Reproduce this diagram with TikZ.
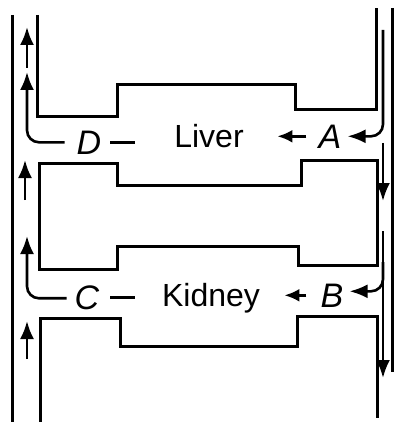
\documentclass[tikz,border=0pt]{standalone}
\usepackage{fontspec}
\setmainfont{Liberation Sans}
\usepackage{tikz}
\usetikzlibrary{arrows.meta}

\begin{document}
\begin{tikzpicture}[x=1pt, y=-1pt,
  wall/.style={line width=3pt, line join=miter},
  flow/.style={line width=2.6pt, rounded corners=12pt,
    -{Latex[length=18pt,width=14pt]}},
  pointer/.style={line width=2.6pt, -{Latex[length=15pt,width=13pt]}},
  organ/.style={font=\fontsize{32}{34}\selectfont, inner sep=0pt, anchor=base},
  site/.style={font=\fontsize{34}{36}\selectfont\itshape, inner sep=0pt,
    anchor=base}
]
\useasboundingbox (0,0) rectangle (395,422);

% Vessels (outer walls)
\draw[wall] (12,15) -- (12,422);
\draw[wall] (392,8) -- (392,372);

% Liver chamber, upper wall
\draw[wall] (37,15) -- (37,117) -- (117,117) -- (117,85) -- (295,85)
  -- (295,110) -- (376,110) -- (376,8);
% Wall between liver and kidney
\draw[wall] (39,163) -- (117,163) -- (117,185) -- (301,185) -- (301,160)
  -- (377,160) -- (377,265) -- (298,265) -- (298,246) -- (117,246)
  -- (117,269) -- (39,269) -- cycle;
% Kidney chamber, lower wall
\draw[wall] (40,422) -- (40,318) -- (120,318) -- (120,346) -- (297,346)
  -- (297,316) -- (377,316) -- (377,418);

% Organs and sites
\node[organ] (liver)  at (209,147) {Liver};
\node[organ] (kidney) at (211,306) {Kidney};
\node[site] (labA) at (330,148) {A};
\node[site] (labB) at (332,307) {B};
\node[site] (labC) at (87,309) {C};
\node[site] (labD) at (89,154) {D};

% Ends of the flow lines in the vessels
\coordinate (inA)   at (383,30);
\coordinate (inB)   at (383,262);
\coordinate (outD)  at (27,72);
\coordinate (outC)  at (27,236);

% Flow into the organs
\draw[flow] (inA) |- ([xshift=6pt]labA.east);
\draw[flow] (inB) |- ([xshift=6pt,yshift=4pt]labB.east);
\draw[pointer] ([xshift=-12pt]labA.west) -- ++(-29,0);
\draw[pointer] ([xshift=-14pt]labB.west) -- ++(-22,0);

% Flow out of the organs
\draw[line width=2.6pt] ([xshift=9pt]labD.east) -- ++(25,0);
\draw[line width=2.6pt] ([xshift=11pt]labC.east) -- ++(25,0);
\draw[flow] ([xshift=-12pt]labD.west) -| (outD);
\draw[flow] ([xshift=-8pt,yshift=-1pt]labC.west) -| (outC);

% Flow along the vessels
\draw[flow] (383,143) -- (383,201);
\draw[flow] (383,231) -- (383,378);
\draw[flow] (27,68) -- (27,27);
\draw[flow] (25,200) -- (25,160);
\draw[flow] (27,359) -- (27,321);

\end{tikzpicture}
\end{document}
